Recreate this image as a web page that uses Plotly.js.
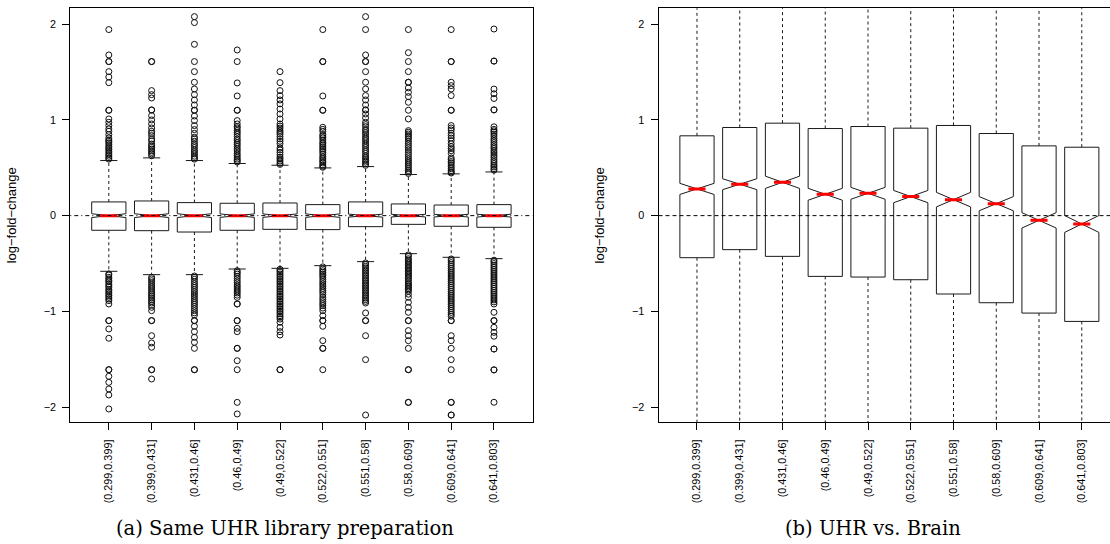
<!DOCTYPE html>
<html>
<head>
<meta charset="utf-8">
<script src="https://cdn.plot.ly/plotly-3.0.1.min.js"></script>
<style>
html,body{margin:0;padding:0;background:#fff;overflow:hidden}
#chart{width:1110px;height:544px}
</style>
</head>
<body>
<div id="chart"></div>
<script>
// ---------- data ----------
const categories = ['(0.299,0.399]','(0.399,0.431]','(0.431,0.46]','(0.46,0.49]','(0.49,0.522]',
                    '(0.522,0.551]','(0.551,0.58]','(0.58,0.609]','(0.609,0.641]','(0.641,0.803]'];
const yTicks = [-2, -1, 0, 1, 2];

// Panel (a): Same UHR library preparation
const aQ1 = [-0.153,-0.157,-0.171,-0.153,-0.143,-0.146,-0.115,-0.091,-0.111,-0.122];
const aMedian = [0,0,0,0,0,0,0,0,0,0];
const aQ3 = [0.143,0.153,0.136,0.129,0.132,0.115,0.143,0.122,0.111,0.115];
const aLowerWhisker = [-0.581,-0.616,-0.616,-0.557,-0.55,-0.522,-0.48,-0.397,-0.435,-0.449];
const aUpperWhisker = [0.575,0.603,0.575,0.544,0.526,0.498,0.512,0.429,0.436,0.456];
const aNotch = [0.02,0.02,0.02,0.018,0.018,0.018,0.016,0.014,0.014,0.015];
const aOutliers = [
  [1.942,1.677,1.608,1.608,1.503,1.447,1.388,1.10,1.10,1.009,0.974,0.94,0.905,0.88,0.846,0.811,0.79,0.776,0.76,0.741,0.72,0.706,0.69,0.672,0.655,0.637,0.62,0.602,0.59,
   -0.609,-0.62,-0.644,-0.66,-0.679,-0.69,-0.713,-0.73,-0.748,-0.77,-0.783,-0.8,-0.818,-0.835,-0.852,-0.87,-0.887,-0.922,-1.096,-1.096,-1.183,-1.28,-1.608,-1.608,-1.677,-1.74,-1.809,-1.872,-2.018],
  [1.608,1.608,1.305,1.263,1.228,1.103,1.103,1.044,0.999,0.957,0.915,0.88,0.86,0.835,0.80,0.78,0.748,0.73,0.713,0.695,0.678,0.66,0.644,0.625,
   -0.644,-0.66,-0.679,-0.7,-0.724,-0.745,-0.766,-0.787,-0.807,-0.825,-0.842,-0.86,-0.877,-0.895,-0.912,-0.935,-0.957,-0.992,-1.096,-1.096,-1.253,-1.329,-1.374,-1.608,-1.608,-1.705],
  [2.077,2.015,1.788,1.608,1.503,1.392,1.322,1.263,1.207,1.155,1.10,1.10,1.04,0.992,0.94,0.898,0.859,0.818,0.80,0.776,0.75,0.731,0.71,0.685,0.665,0.644,0.62,0.602,0.59,
   -0.63,-0.644,-0.665,-0.689,-0.71,-0.731,-0.75,-0.773,-0.795,-0.818,-0.84,-0.863,-0.885,-0.905,-0.925,-0.947,-0.97,-0.992,-1.015,-1.037,-1.096,-1.096,-1.155,-1.211,-1.27,-1.322,-1.385,-1.608,-1.608],
  [1.729,1.608,1.385,1.249,1.10,1.10,0.992,0.957,0.93,0.915,0.89,0.87,0.85,0.825,0.80,0.783,0.76,0.741,0.72,0.696,0.675,0.65,0.63,0.609,0.59,0.574,0.56,
   -0.575,-0.592,-0.61,-0.633,-0.655,-0.679,-0.7,-0.724,-0.745,-0.766,-0.787,-0.807,-0.83,-0.853,-0.922,-0.922,-1.096,-1.096,-1.176,-1.211,-1.385,-1.385,-1.514,-1.608,-1.949,-2.07],
  [1.503,1.388,1.305,1.253,1.207,1.166,1.113,1.061,1.009,0.957,0.935,0.915,0.89,0.87,0.85,0.825,0.80,0.776,0.75,0.706,0.685,0.661,0.635,0.609,0.59,0.57,0.55,0.535,
   -0.56,-0.574,-0.59,-0.609,-0.625,-0.644,-0.66,-0.679,-0.695,-0.713,-0.73,-0.748,-0.765,-0.783,-0.8,-0.818,-0.835,-0.852,-0.87,-0.887,-0.905,-0.922,-0.94,-0.957,-0.975,-0.992,-1.009,-1.026,-1.045,-1.061,-1.08,-1.113,-1.166,-1.211,-1.246,-1.608,-1.608],
  [1.942,1.608,1.608,1.249,1.10,1.10,0.922,0.9,0.88,0.846,0.83,0.811,0.79,0.765,0.75,0.731,0.715,0.696,0.68,0.661,0.64,0.616,0.6,0.581,0.565,0.55,0.53,0.515,0.505,
   -0.535,-0.557,-0.575,-0.592,-0.61,-0.626,-0.645,-0.668,-0.69,-0.713,-0.735,-0.759,-0.78,-0.80,-0.825,-0.853,-0.875,-0.898,-0.92,-0.94,-0.965,-0.992,-1.044,-1.096,-1.096,-1.155,-1.305,-1.385,-1.385,-1.608],
  [2.077,1.942,1.677,1.608,1.608,1.503,1.392,1.322,1.253,1.207,1.155,1.103,1.103,1.061,1.02,0.974,0.95,0.929,0.9,0.887,0.865,0.846,0.82,0.80,0.78,0.755,0.735,0.713,0.69,0.672,0.65,0.626,0.61,0.592,0.575,0.558,0.54,0.525,
   -0.494,-0.51,-0.529,-0.545,-0.564,-0.58,-0.598,-0.615,-0.633,-0.65,-0.668,-0.685,-0.703,-0.72,-0.738,-0.755,-0.772,-0.79,-0.807,-0.825,-0.842,-0.86,-0.877,-0.895,-0.912,-1.016,-1.096,-1.096,-1.253,-1.503,-2.081],
  [1.942,1.701,1.608,1.503,1.392,1.392,1.333,1.287,1.242,1.183,1.10,1.009,0.887,0.87,0.852,0.835,0.818,0.8,0.776,0.755,0.731,0.71,0.685,0.66,0.637,0.615,0.592,0.57,0.55,0.53,0.51,0.49,0.47,0.455,0.44,
   -0.41,-0.425,-0.45,-0.465,-0.48,-0.495,-0.51,-0.525,-0.54,-0.555,-0.57,-0.585,-0.6,-0.615,-0.63,-0.645,-0.66,-0.68,-0.7,-0.715,-0.73,-0.745,-0.76,-0.775,-0.79,-0.82,-0.853,-0.905,-0.957,-1.009,-1.096,-1.096,-1.2,-1.253,-1.305,-1.385,-1.608,-1.608,-1.949,-1.949],
  [1.942,1.608,1.608,1.392,1.357,1.322,1.253,1.10,1.10,0.94,0.915,0.894,0.86,0.835,0.81,0.783,0.75,0.72,0.7,0.678,0.65,0.602,0.585,0.565,0.55,0.53,0.51,0.49,0.47,0.455,0.445,
   -0.452,-0.47,-0.49,-0.51,-0.53,-0.55,-0.57,-0.59,-0.61,-0.63,-0.65,-0.67,-0.69,-0.71,-0.73,-0.75,-0.77,-0.79,-0.81,-0.83,-0.85,-0.87,-0.89,-0.91,-0.93,-0.95,-0.97,-0.99,-1.01,-1.03,-1.05,-1.096,-1.096,-1.253,-1.305,-1.385,-1.503,-1.608,-1.949,-1.949,-2.081,-2.081],
  [1.948,1.613,1.613,1.321,1.272,1.223,1.104,1.104,0.927,0.9,0.885,0.87,0.85,0.83,0.805,0.785,0.763,0.74,0.718,0.7,0.676,0.655,0.631,0.61,0.585,0.565,0.544,0.525,0.509,0.49,0.475,
   -0.465,-0.48,-0.5,-0.52,-0.54,-0.56,-0.58,-0.6,-0.62,-0.64,-0.66,-0.68,-0.7,-0.72,-0.74,-0.76,-0.78,-0.8,-0.82,-0.84,-0.86,-0.88,-0.9,-0.922,-1.009,-1.096,-1.096,-1.166,-1.218,-1.259,-1.392,-1.392,-1.61,-1.61,-1.948]
];

// Panel (b): UHR vs. Brain
const bQ1 = [-0.439,-0.355,-0.425,-0.634,-0.641,-0.669,-0.818,-0.909,-1.017,-1.104];
const bMedian = [0.279,0.328,0.348,0.223,0.233,0.199,0.167,0.125,-0.049,-0.087];
const bQ3 = [0.833,0.92,0.965,0.909,0.93,0.913,0.941,0.857,0.728,0.714];
const bLowerWhisker = [-2.35,-2.27,-2.51,-2.95,-3.0,-3.04,-3.46,-3.56,-3.63,-3.83];
const bUpperWhisker = [2.74,2.83,3.05,3.22,3.29,3.29,3.58,3.5,3.35,3.44];
const bNotch = [0.058,0.057,0.064,0.062,0.062,0.064,0.076,0.074,0.080,0.088];

const captionA = '(a) Same UHR library preparation';
const captionB = '(b) UHR vs. Brain';
const yTitle = 'log\u2212fold\u2212change';

// ---------- builders ----------
const pos = categories.map((c, i) => i);
const BOXW = 0.8, CAPW = 0.2, MEDW = 0.2;
const LINE = '#1a1a1a';

function panelTraces(q1, med, q3, lw, uw, notch, outliers, xa, ya) {
  const tr = [];
  tr.push({
    type: 'box', x: pos, q1: q1, median: med, q3: q3,
    lowerfence: q1, upperfence: q3, notchspan: notch, notched: true, notchwidth: 0.5,
    width: BOXW, whiskerwidth: 0, fillcolor: 'rgba(255,255,255,0)',
    line: {color: LINE, width: 1}, xaxis: xa, yaxis: ya, hoverinfo: 'skip', showlegend: false
  });
  // dashed whiskers
  const wx = [], wy = [];
  pos.forEach((p, i) => { wx.push(p, p, null, p, p, null); wy.push(q3[i], uw[i], null, q1[i], lw[i], null); });
  tr.push({type: 'scatter', mode: 'lines', x: wx, y: wy, xaxis: xa, yaxis: ya,
    line: {color: LINE, width: 1, dash: '3px,3px'}, hoverinfo: 'skip', showlegend: false});
  // staples
  const sx = [], sy = [];
  pos.forEach((p, i) => { sx.push(p - CAPW, p + CAPW, null, p - CAPW, p + CAPW, null); sy.push(uw[i], uw[i], null, lw[i], lw[i], null); });
  tr.push({type: 'scatter', mode: 'lines', x: sx, y: sy, xaxis: xa, yaxis: ya,
    line: {color: LINE, width: 1}, hoverinfo: 'skip', showlegend: false});
  // outliers
  if (outliers) {
    const ox = [], oy = [];
    outliers.forEach((arr, i) => arr.forEach(v => { ox.push(pos[i]); oy.push(v); }));
    tr.push({type: 'scatter', mode: 'markers', x: ox, y: oy, xaxis: xa, yaxis: ya,
      marker: {symbol: 'circle-open', size: 6, color: '#111', line: {width: 1}},
      hoverinfo: 'skip', showlegend: false});
  }
  // red medians
  const mx = [], my = [];
  pos.forEach((p, i) => { mx.push(p - MEDW, p + MEDW, null); my.push(med[i], med[i], null); });
  tr.push({type: 'scatter', mode: 'lines', x: mx, y: my, xaxis: xa, yaxis: ya,
    line: {color: '#ff0000', width: 3}, hoverinfo: 'skip', showlegend: false});
  return tr;
}

const data = [].concat(
  panelTraces(aQ1, aMedian, aQ3, aLowerWhisker, aUpperWhisker, aNotch, aOutliers, 'x', 'y'),
  panelTraces(bQ1, bMedian, bQ3, bLowerWhisker, bUpperWhisker, bNotch, null, 'x2', 'y2')
);

const W = 1110, H = 544;
const tickFont = {family: '"Liberation Sans", Arial, Helvetica, sans-serif', size: 10.8, color: '#000'};
const yDomain = [(H - 422.3) / H, (H - 8.3) / H];
const yRange = [-2.157, 2.164];

function xAxis(domain, range, anchor) {
  return {domain: domain, range: range, anchor: anchor, tickmode: 'array', tickvals: pos, ticktext: categories,
    tickangle: -90, ticks: 'outside', ticklen: 7, tickwidth: 1, tickcolor: '#000',
    showline: true, linecolor: '#000', linewidth: 1, mirror: true,
    showgrid: false, zeroline: false, tickfont: tickFont, ticklabelstandoff: 5, fixedrange: true};
}
function yAxis(anchor, mirror) {
  return {domain: yDomain, range: yRange, anchor: anchor, tickmode: 'array', tickvals: yTicks,
    ticks: 'outside', ticklen: 7, tickwidth: 1, tickcolor: '#000',
    showline: true, linecolor: '#000', linewidth: 1, mirror: mirror,
    showgrid: false, zeroline: false, tickfont: tickFont, ticklabelstandoff: 4, fixedrange: true,
    title: {text: yTitle, font: {family: '"Liberation Sans", Arial, sans-serif', size: 13, color: '#000'}, standoff: 24}};
}

const layout = {
  width: W, height: H, margin: {l: 0, r: 0, t: 0, b: 0},
  paper_bgcolor: '#fff', plot_bgcolor: '#fff', showlegend: false,
  xaxis: xAxis([70.3 / W, 532.5 / W], [-0.9, 9.9], 'y'),
  yaxis: yAxis('x', true),
  xaxis2: xAxis([658.5 / W, 1], [-0.9, 9.66], 'y2'),
  yaxis2: yAxis('x2', false),
  shapes: [
    {type: 'line', xref: 'x domain', yref: 'y', x0: 0, x1: 1, y0: 0, y1: 0, layer: 'above',
     line: {color: '#000', width: 1, dash: '1px,3px,4px,3px'}},
    {type: 'line', xref: 'x2 domain', yref: 'y2', x0: 0, x1: 1, y0: 0, y1: 0, layer: 'above',
     line: {color: '#000', width: 1, dash: '4px,3px'}}
  ],
  annotations: [
    {text: captionA, xref: 'paper', yref: 'paper', x: 285 / W, y: (H - 528) / H, xanchor: 'center', yanchor: 'middle',
     showarrow: false, font: {family: '"DejaVu Serif", "Liberation Serif", serif', size: 19.5, color: '#000'}},
    {text: captionB, xref: 'paper', yref: 'paper', x: 873 / W, y: (H - 528) / H, xanchor: 'center', yanchor: 'middle',
     showarrow: false, font: {family: '"DejaVu Serif", "Liberation Serif", serif', size: 19.5, color: '#000'}}
  ]
};

Plotly.newPlot('chart', data, layout, {staticPlot: true, displayModeBar: false});
</script>
</body>
</html>
